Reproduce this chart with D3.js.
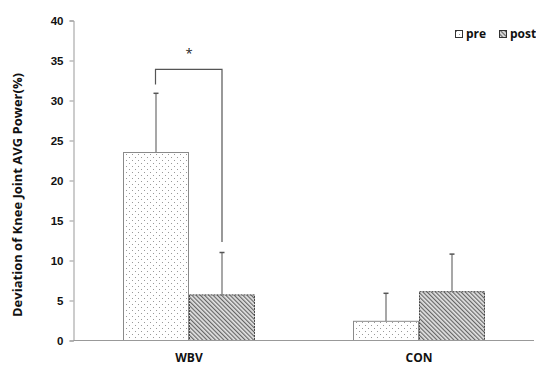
<!DOCTYPE html>
<meta charset="utf-8">
<title>knee joint</title>
<style>
body { margin: 0; background: #fff; }
svg { display: block; font-family: "Open Sans", "Noto Sans", sans-serif; }
.tick text { font-size: 11.5px; font-weight: bold; fill: #111; }
.cat { font-size: 12px; font-weight: bold; fill: #111; }
</style>
<svg width="536" height="365"></svg>
<script src="https://cdn.jsdelivr.net/npm/d3@7"></script>
<script>

var categories = ["WBV", "CON"];
var series = ["pre", "post"];
var means = [[23.5, 5.7], [2.4, 6.1]];
var errors = [[7.4, 5.3], [3.5, 4.7]];
var yTicks = [0, 5, 10, 15, 20, 25, 30, 35, 40];
// significance bracket over WBV: level, left end, right end (in % units)
var sigLevel = 33.9;
var sigEnds = [32.0, 12.3];

var svg = d3.select("svg");

var y = d3.scaleLinear().domain([0, 40]).range([340.5, 20.5]);
var x0 = d3.scaleBand().domain(categories).range([74, 534]);
var barW = 66;
var x1 = d3.scaleBand().domain(series)
    .range([x0.bandwidth() / 2 - barW, x0.bandwidth() / 2 + barW]);

// patterns
var defs = svg.append("defs");
var dots = defs.append("pattern")
    .attr("id", "dots")
    .attr("patternUnits", "userSpaceOnUse")
    .attr("width", 6).attr("height", 6);
dots.append("rect").attr("width", 6).attr("height", 6).attr("fill", "#fff");
dots.append("rect").attr("x", 1).attr("y", 1).attr("width", 1).attr("height", 1).attr("fill", "#999");
dots.append("rect").attr("x", 4).attr("y", 4).attr("width", 1).attr("height", 1).attr("fill", "#999");

var hatch = defs.append("pattern")
    .attr("id", "hatch")
    .attr("patternUnits", "userSpaceOnUse")
    .attr("width", 3).attr("height", 3)
    .attr("patternTransform", "rotate(-45)");
hatch.append("rect").attr("width", 3).attr("height", 3).attr("fill", "#e4e4e4");
hatch.append("rect").attr("width", 1.2).attr("height", 3).attr("fill", "#666");

var fills = { pre: "url(#dots)", post: "url(#hatch)" };
var strokes = { pre: "#8a8a8a", post: "#444" };

// y axis
var yAxis = svg.append("g")
    .attr("transform", "translate(73.5,0)")
    .call(d3.axisLeft(y).tickValues(yTicks).tickSize(4).tickPadding(6));
yAxis.select(".domain").attr("stroke", "#999");
yAxis.selectAll(".tick line").attr("stroke", "#999");

// y title
svg.append("text")
    .attr("transform", "translate(22,195) rotate(-90)")
    .attr("text-anchor", "middle")
    .style("font-size", "13px")
    .style("font-weight", "bold")
    .attr("fill", "#111")
    .text("Deviation of Knee Joint AVG Power(%)");

// bars
var groups = svg.selectAll("g.grp")
    .data(categories)
  .enter().append("g")
    .attr("class", "grp")
    .attr("transform", function(d) { return "translate(" + x0(d) + ",0)"; });

groups.each(function(c, ci) {
  var g = d3.select(this);
  series.forEach(function(s, si) {
    var v = means[ci][si], e = errors[ci][si];
    var cx = x1(s) + x1.bandwidth() / 2;
    // error bar
    g.append("line")
        .attr("x1", cx).attr("x2", cx)
        .attr("y1", y(v)).attr("y2", y(v + e))
        .attr("stroke", "#8a8a8a").attr("stroke-width", 1.5);
    g.append("line")
        .attr("x1", cx - 2.5).attr("x2", cx + 2.5)
        .attr("y1", y(v + e)).attr("y2", y(v + e))
        .attr("stroke", "#555").attr("stroke-width", 1.5);
    g.append("rect")
        .attr("x", x1(s) + 0.5)
        .attr("y", y(v))
        .attr("width", x1.bandwidth() - 1)
        .attr("height", y(0) - y(v))
        .attr("fill", fills[s])
        .attr("stroke", strokes[s])
        .attr("stroke-width", 1)
        .attr("stroke-dasharray", s === "post" ? "2,1" : null);
  });
});

// x axis line
svg.append("line")
    .attr("x1", 73.5).attr("x2", 534)
    .attr("y1", y(0)).attr("y2", y(0))
    .attr("stroke", "#999");

// category labels
svg.selectAll("text.cat")
    .data(categories)
  .enter().append("text")
    .attr("class", "cat")
    .attr("x", function(d) { return x0(d) + x0.bandwidth() / 2; })
    .attr("y", 362)
    .attr("text-anchor", "middle")
    .text(function(d) { return d; });

// significance bracket
var bx0 = x0("WBV") + x1("pre") + x1.bandwidth() / 2;
var bx1 = x0("WBV") + x1("post") + x1.bandwidth() / 2;
svg.append("path")
    .attr("d", "M" + (bx0 - 0.5) + "," + y(sigEnds[0]) +
               "V" + y(sigLevel) + "H" + bx1 + "V" + y(sigEnds[1]))
    .attr("fill", "none")
    .attr("stroke", "#555")
    .attr("stroke-width", 1.2);
svg.append("text")
    .attr("x", (bx0 + bx1) / 2)
    .attr("y", 58)
    .attr("text-anchor", "middle")
    .style("font-size", "13px")
    .attr("fill", "#222")
    .text("*");

// legend
var leg = svg.append("g").attr("transform", "translate(455,30)");
var legX = [0, 44];
series.forEach(function(s, i) {
  var lg = leg.append("g").attr("transform", "translate(" + legX[i] + ",0)");
  lg.append("rect")
      .attr("x", 0.5).attr("y", 0.5)
      .attr("width", 7).attr("height", 7)
      .attr("fill", fills[s])
      .attr("stroke", "#333");
  lg.append("text")
      .attr("x", 11).attr("y", 8)
      .style("font-size", "12px")
      .style("font-weight", "bold")
      .attr("fill", "#111")
      .text(s);
});

</script>
